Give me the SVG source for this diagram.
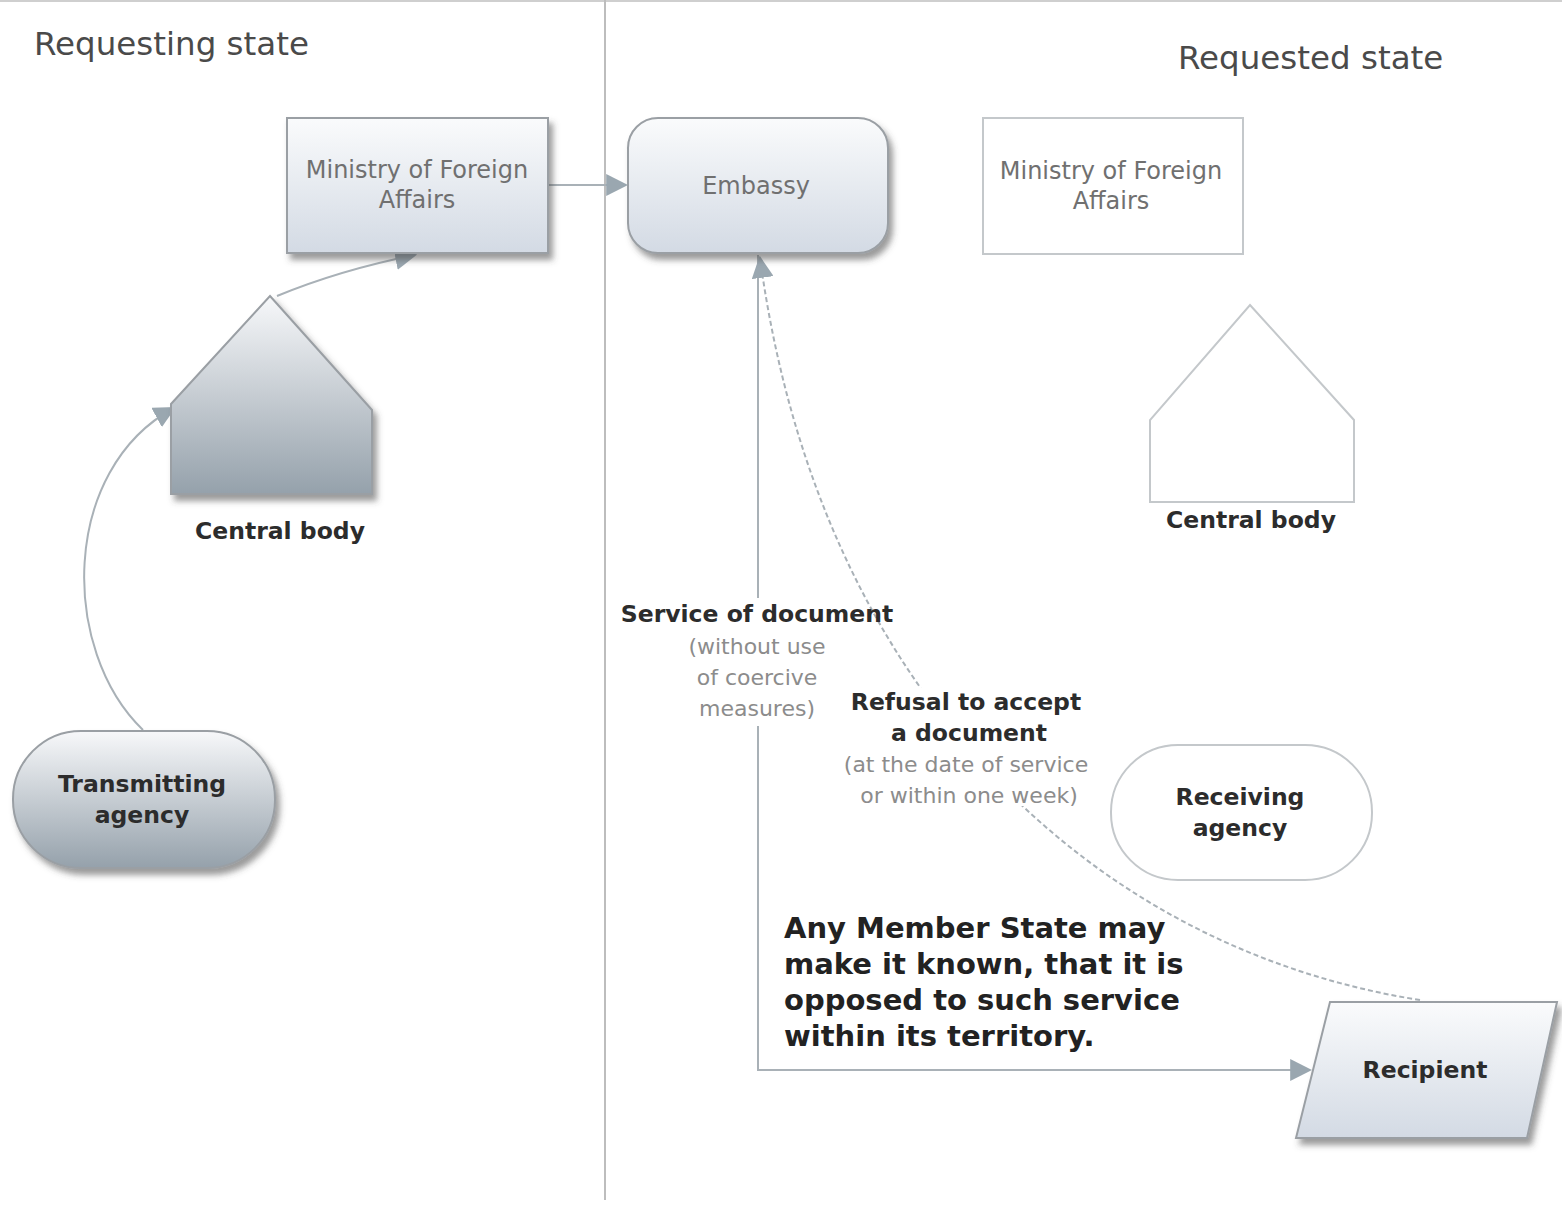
<svg xmlns="http://www.w3.org/2000/svg" width="1562" height="1208" viewBox="0 0 1562 1208">
<defs>
<linearGradient id="gLight" x1="0" y1="0" x2="0" y2="1"><stop offset="0" stop-color="#fafbfc"/><stop offset="1" stop-color="#d3dae4"/></linearGradient>
<linearGradient id="gDark" x1="0" y1="0" x2="0" y2="1"><stop offset="0" stop-color="#f7f8fa"/><stop offset="1" stop-color="#95a1ab"/></linearGradient>
<filter id="sh" x="-10%" y="-10%" width="125%" height="130%"><feDropShadow dx="4" dy="6" stdDeviation="3" flood-color="#4a4a4a" flood-opacity="0.55"/></filter>
<marker id="arr" viewBox="0 0 10 10" refX="9" refY="5" markerWidth="22" markerHeight="22" markerUnits="userSpaceOnUse" orient="auto"><path d="M0,0 L10,5 L0,10 z" fill="#9aa7b0"/></marker>
<style>
text{font-family:"DejaVu Sans","Liberation Sans",sans-serif;text-anchor:middle}
.title{font-size:32.5px;fill:#4a4a4a;text-anchor:start}
.nt{font-size:24px;fill:#707070}
.bt{font-size:23.5px;font-weight:bold;fill:#2c2c2c}
.gt{font-size:22px;fill:#8c8c8c}
.big{font-size:29px;font-weight:bold;fill:#222;text-anchor:start}
.con{fill:none;stroke:#a9b1b7;stroke-width:2}
.dash{fill:none;stroke:#a9b1b7;stroke-width:2;stroke-dasharray:5 3}
.shapeF{stroke:#9a9fa4;stroke-width:2}
.shapeW{fill:#fff;stroke:#c4c8cb;stroke-width:2}
</style>
</defs>
<rect width="1562" height="1208" fill="#fff"/>
<line x1="0" y1="1" x2="1562" y2="1" stroke="#cfcfcf" stroke-width="2"/>
<line x1="605" y1="0" x2="605" y2="1200" stroke="#bdbdbd" stroke-width="2"/>
<text class="title" x="34" y="55">Requesting state</text>
<text class="title" x="1178" y="69">Requested state</text>

<g id="connectors">
<line class="con" x1="548" y1="185" x2="626" y2="185" marker-end="url(#arr)"/>
<path class="con" d="M277,296 Q340,270 415,255" marker-end="url(#arr)"/>
<path class="con" d="M143,730 C60,650 60,470 174,408" marker-end="url(#arr)"/>
<path class="con" d="M758,255 L758,1070 L1310,1070" marker-end="url(#arr)"/>
<path class="dash" d="M1420,1000 C1100,950 820,700 760,258" marker-end="url(#arr)"/>
</g>

<g id="mfa-left">
<rect class="shapeF" x="287" y="118" width="261" height="135" fill="url(#gLight)" filter="url(#sh)"/>
<text class="nt" x="417" y="178">Ministry of Foreign</text>
<text class="nt" x="417" y="208">Affairs</text>
</g>
<g id="embassy">
<rect class="shapeF" x="628" y="118" width="260" height="135" rx="30" fill="url(#gLight)" filter="url(#sh)"/>
<text class="nt" x="756" y="194">Embassy</text>
</g>
<g id="mfa-right">
<rect class="shapeW" x="983" y="118" width="260" height="136"/>
<text class="nt" x="1111" y="179">Ministry of Foreign</text>
<text class="nt" x="1111" y="209">Affairs</text>
</g>
<g id="central-left">
<polygon class="shapeF" points="270,296 372,410 372,494 171,494 171,404" fill="url(#gDark)" filter="url(#sh)"/>
<text class="bt" x="280" y="539">Central body</text>
</g>
<g id="central-right">
<polygon class="shapeW" points="1250,305 1354,420 1354,502 1150,502 1150,420"/>
<text class="bt" x="1251" y="528">Central body</text>
</g>
<g id="transmitting">
<rect class="shapeF" x="13" y="731" width="262" height="137" rx="68" fill="url(#gDark)" filter="url(#sh)"/>
<text class="bt" x="142" y="792">Transmitting</text>
<text class="bt" x="142" y="823">agency</text>
</g>
<g id="receiving">
<rect class="shapeW" x="1111" y="745" width="261" height="135" rx="67"/>
<text class="bt" x="1240" y="805">Receiving</text>
<text class="bt" x="1240" y="836">agency</text>
</g>
<g id="recipient">
<polygon class="shapeF" points="1330,1002 1557,1002 1527,1138 1296,1138" fill="url(#gLight)" filter="url(#sh)"/>
<text class="bt" x="1425" y="1078">Recipient</text>
</g>

<g id="label-service">
<rect x="680" y="598" width="156" height="128" fill="#fff"/>
<text class="bt" x="757" y="622">Service of document</text>
<text class="gt" x="757" y="654">(without use</text>
<text class="gt" x="757" y="685">of coercive</text>
<text class="gt" x="757" y="716">measures)</text>
</g>
<g id="label-refusal">
<rect x="830" y="688" width="274" height="118" fill="#fff"/>
<text class="bt" x="966" y="710">Refusal to accept</text>
<text class="bt" x="969" y="741">a document</text>
<text class="gt" x="966" y="772">(at the date of service</text>
<text class="gt" x="969" y="803">or within one week)</text>
</g>
<g id="note">
<text class="big" x="784" y="938">Any Member State may</text>
<text class="big" x="784" y="974">make it known, that it is</text>
<text class="big" x="784" y="1010">opposed to such service</text>
<text class="big" x="784" y="1046">within its territory.</text>
</g>
</svg>
